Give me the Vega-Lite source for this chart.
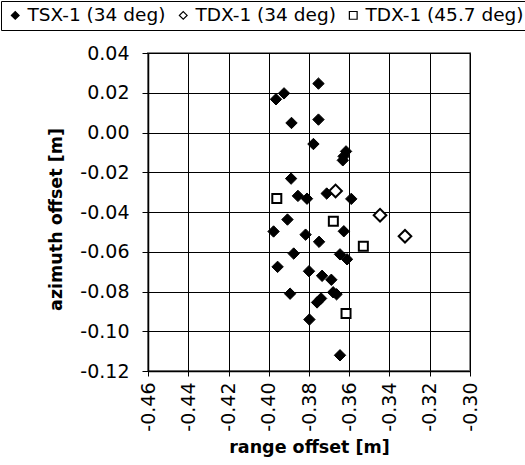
{
  "$schema": "https://vega.github.io/schema/vega-lite/v6.json",
  "width": 322,
  "height": 318,
  "autosize": {"type": "none"},
  "padding": {"left": 148, "top": 53, "right": 55, "bottom": 94},
  "data": {
    "values": [
      {"series": "TSX-1 (34 deg)", "range": -0.3753, "azimuth": 0.0246},
      {"series": "TSX-1 (34 deg)", "range": -0.3964, "azimuth": 0.0167},
      {"series": "TSX-1 (34 deg)", "range": -0.3924, "azimuth": 0.0197},
      {"series": "TSX-1 (34 deg)", "range": -0.3753, "azimuth": 0.0065},
      {"series": "TSX-1 (34 deg)", "range": -0.3887, "azimuth": 0.0048},
      {"series": "TSX-1 (34 deg)", "range": -0.3778, "azimuth": -0.0058},
      {"series": "TSX-1 (34 deg)", "range": -0.3616, "azimuth": -0.0095},
      {"series": "TSX-1 (34 deg)", "range": -0.3628, "azimuth": -0.0120},
      {"series": "TSX-1 (34 deg)", "range": -0.3632, "azimuth": -0.0140},
      {"series": "TSX-1 (34 deg)", "range": -0.3889, "azimuth": -0.0232},
      {"series": "TSX-1 (34 deg)", "range": -0.3855, "azimuth": -0.0319},
      {"series": "TSX-1 (34 deg)", "range": -0.3810, "azimuth": -0.0333},
      {"series": "TSX-1 (34 deg)", "range": -0.3712, "azimuth": -0.0307},
      {"series": "TSX-1 (34 deg)", "range": -0.3590, "azimuth": -0.0334},
      {"series": "TSX-1 (34 deg)", "range": -0.3907, "azimuth": -0.0438},
      {"series": "TSX-1 (34 deg)", "range": -0.3976, "azimuth": -0.0498},
      {"series": "TSX-1 (34 deg)", "range": -0.3817, "azimuth": -0.0514},
      {"series": "TSX-1 (34 deg)", "range": -0.3750, "azimuth": -0.0550},
      {"series": "TSX-1 (34 deg)", "range": -0.3627, "azimuth": -0.0497},
      {"series": "TSX-1 (34 deg)", "range": -0.3876, "azimuth": -0.0609},
      {"series": "TSX-1 (34 deg)", "range": -0.3646, "azimuth": -0.0613},
      {"series": "TSX-1 (34 deg)", "range": -0.3611, "azimuth": -0.0638},
      {"series": "TSX-1 (34 deg)", "range": -0.3956, "azimuth": -0.0676},
      {"series": "TSX-1 (34 deg)", "range": -0.3800, "azimuth": -0.0698},
      {"series": "TSX-1 (34 deg)", "range": -0.3735, "azimuth": -0.0721},
      {"series": "TSX-1 (34 deg)", "range": -0.3689, "azimuth": -0.0741},
      {"series": "TSX-1 (34 deg)", "range": -0.3663, "azimuth": -0.0814},
      {"series": "TSX-1 (34 deg)", "range": -0.3680, "azimuth": -0.0804},
      {"series": "TSX-1 (34 deg)", "range": -0.3894, "azimuth": -0.0811},
      {"series": "TSX-1 (34 deg)", "range": -0.3760, "azimuth": -0.0855},
      {"series": "TSX-1 (34 deg)", "range": -0.3740, "azimuth": -0.0835},
      {"series": "TSX-1 (34 deg)", "range": -0.3798, "azimuth": -0.0941},
      {"series": "TSX-1 (34 deg)", "range": -0.3646, "azimuth": -0.1121},
      {"series": "TDX-1 (34 deg)", "range": -0.3668, "azimuth": -0.0294},
      {"series": "TDX-1 (34 deg)", "range": -0.3447, "azimuth": -0.0416},
      {"series": "TDX-1 (34 deg)", "range": -0.3323, "azimuth": -0.0522},
      {"series": "TDX-1 (45.7 deg)", "range": -0.3960, "azimuth": -0.0332},
      {"series": "TDX-1 (45.7 deg)", "range": -0.3679, "azimuth": -0.0447},
      {"series": "TDX-1 (45.7 deg)", "range": -0.3530, "azimuth": -0.0572},
      {"series": "TDX-1 (45.7 deg)", "range": -0.3616, "azimuth": -0.0911}
    ]
  },
  "encoding": {
    "x": {"field": "range", "type": "quantitative", "title": "range offset [m]",
      "scale": {"domain": [-0.46, -0.30], "nice": false, "zero": false},
      "axis": {"orient": "bottom",
        "values": [-0.46, -0.44, -0.42, -0.40, -0.38, -0.36, -0.34, -0.32, -0.30],
        "labelExpr": "replace(format(datum.value, '.2f'), '\u2212', '-')",
        "labelAngle": -90, "labelAlign": "right", "labelBaseline": "middle", "labelPadding": 6,
        "tickSize": 5, "tickColor": "black", "tickWidth": 1,
        "grid": true, "gridColor": "black", "gridWidth": 1, "gridOpacity": 1,
        "domainColor": "black", "domainWidth": 1.5,
        "labelFont": "DejaVu Sans", "labelFontSize": 19, "labelColor": "black",
        "titleFont": "DejaVu Sans", "titleFontSize": 17.5, "titleFontWeight": "bold", "titleColor": "black", "titlePadding": 7,
        "labelOverlap": false, "labelFlush": false}},
    "y": {"field": "azimuth", "type": "quantitative", "title": "azimuth offset [m]",
      "scale": {"domain": [-0.12, 0.04], "nice": false, "zero": false},
      "axis": {"orient": "left",
        "values": [-0.12, -0.10, -0.08, -0.06, -0.04, -0.02, 0, 0.02, 0.04],
        "labelExpr": "replace(format(datum.value, '.2f'), '\u2212', '-')",
        "labelPadding": 13,
        "tickSize": 6, "tickColor": "black", "tickWidth": 1,
        "grid": true, "gridColor": "black", "gridWidth": 1, "gridOpacity": 1,
        "domainColor": "black", "domainWidth": 1.5,
        "labelFont": "DejaVu Sans", "labelFontSize": 19, "labelColor": "black",
        "titleFont": "DejaVu Sans", "titleFontSize": 17.5, "titleFontWeight": "bold", "titleColor": "black", "titlePadding": 14,
        "titleY": 166,
        "labelOverlap": false, "labelFlush": false}},
    "shape": {"field": "series", "type": "nominal", "title": null,
      "scale": {"domain": ["TSX-1 (34 deg)", "TDX-1 (34 deg)", "TDX-1 (45.7 deg)"], "range": ["diamond", "diamond", "square"]}},
    "fill": {"field": "series", "type": "nominal", "title": null,
      "scale": {"domain": ["TSX-1 (34 deg)", "TDX-1 (34 deg)", "TDX-1 (45.7 deg)"], "range": ["black", "white", "white"]}},
    "stroke": {"field": "series", "type": "nominal", "title": null,
      "scale": {"domain": ["TSX-1 (34 deg)", "TDX-1 (34 deg)", "TDX-1 (45.7 deg)"], "range": ["black", "black", "black"]}}
  },
  "layer": [
    {
      "transform": [{"filter": "datum.series == 'TSX-1 (34 deg)'"}],
      "mark": {"type": "point", "filled": true, "size": 130, "strokeWidth": 1, "opacity": 1}
    },
    {
      "transform": [{"filter": "datum.series == 'TDX-1 (34 deg)'"}],
      "mark": {"type": "point", "filled": true, "size": 160, "strokeWidth": 2, "opacity": 1}
    },
    {
      "transform": [{"filter": "datum.series == 'TDX-1 (45.7 deg)'"}],
      "mark": {"type": "point", "filled": true, "size": 81, "strokeWidth": 2, "opacity": 1}
    }
  ],
  "config": {
    "background": "white",
    "view": {"stroke": "#868686", "strokeWidth": 2},
    "legend": {
      "orient": "none", "legendX": -147, "legendY": -52, "direction": "horizontal", "columns": 3,
      "strokeColor": "black", "fillColor": "white", "padding": 5, "cornerRadius": 0,
      "labelFont": "DejaVu Sans", "labelFontSize": 18.5, "labelColor": "black", "labelLimit": 0,
      "symbolSize": 60, "symbolStrokeWidth": 1.2,
      "columnPadding": 8, "labelOffset": 3
    }
  }
}
